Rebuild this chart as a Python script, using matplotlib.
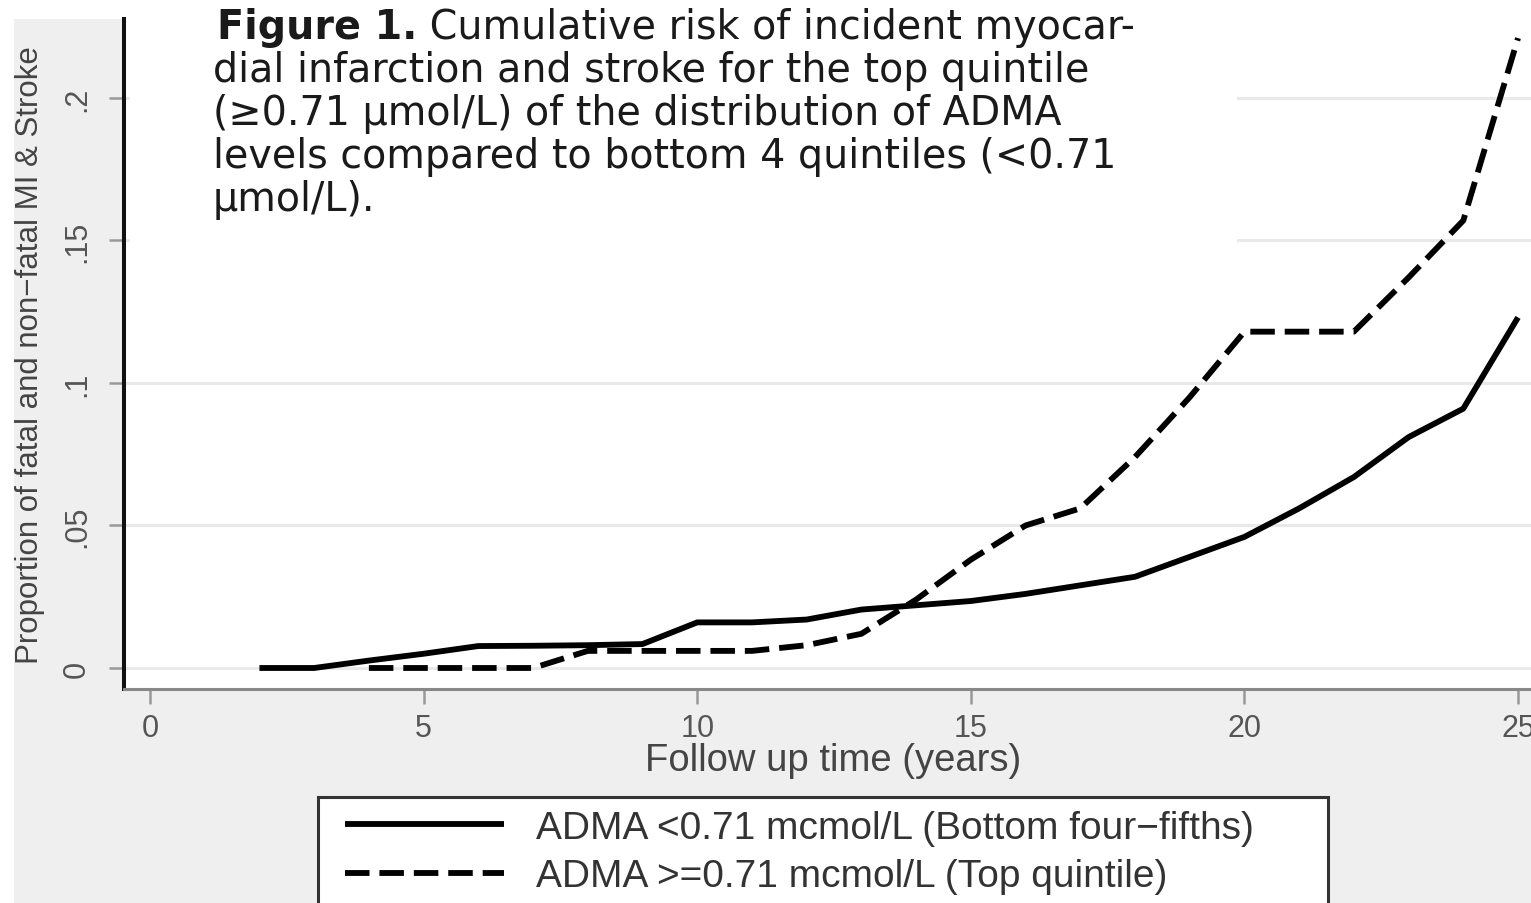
import matplotlib
matplotlib.use('Agg')
import matplotlib.pyplot as plt
from matplotlib.patches import Rectangle
from matplotlib.text import Annotation

# follow-up years and cumulative risk
years_low = [2, 3, 4, 5, 6, 7, 8, 9, 10, 11, 12, 13, 14, 15, 16, 17, 18, 19, 20, 21, 22, 23, 24, 25]
risk_low = [0, 0, 0.0026, 0.005, 0.0077, 0.0078, 0.008, 0.0084, 0.016, 0.016, 0.017, 0.0205,
            0.022, 0.0235, 0.026, 0.029, 0.032, 0.039, 0.046, 0.056, 0.067, 0.081, 0.091, 0.123]

years_high = [4, 5, 6, 7, 8, 9, 10, 11, 12, 13, 14, 15, 16, 17, 18, 19, 20, 21, 22, 23, 24, 25]
risk_high = [0, 0, 0, 0, 0.006, 0.006, 0.006, 0.006, 0.008, 0.012, 0.024, 0.038, 0.050, 0.056,
             0.074, 0.095, 0.118, 0.118, 0.118, 0.137, 0.157, 0.221]

series_labels = ['ADMA <0.71 mcmol/L (Bottom four\u2212fifths)',
                 'ADMA >=0.71 mcmol/L (Top quintile)']

x_ticks = [0, 5, 10, 15, 20, 25]
x_ticklabels = ['0', '5', '10', '15', '20', '25']
y_ticks = [0, 0.05, 0.1, 0.15, 0.2]
y_ticklabels = ['0', '.05', '.1', '.15', '.2']

caption_bold = 'Figure 1.'
caption_lines = [' Cumulative risk of incident myocar-',
                 'dial infarction and stroke for the top quintile',
                 '(\u22650.71 \u03bcmol/L) of the distribution of ADMA',
                 'levels compared to bottom 4 quintiles (<0.71',
                 '\u03bcmol/L).']

W, H = 1531, 904


def fx(px):
    return px / W


def fy(py):
    return 1 - py / H


plt.rcParams['font.family'] = ['Liberation Sans', 'DejaVu Sans']

fig = plt.figure(figsize=(W / 100, H / 100), dpi=100, facecolor='white')

# grey graph region (Stata style), plot area is white
fig.add_artist(Rectangle((fx(14), 0), 1 - fx(14), fy(20), transform=fig.transFigure,
                         facecolor='#efefef', edgecolor='none', zorder=-2))

ax = fig.add_axes([fx(124), fy(690), 1 - fx(124), fy(20) - fy(690)])
ax.set_facecolor('white')
ax.set_xlim(-0.475, 25.237)
ax.set_ylim(-0.00737, 0.2277)

ax.plot(years_low, risk_low, color='black', lw=4.2, solid_capstyle='butt',
        solid_joinstyle='round', label=series_labels[0])
ax.plot(years_high, risk_high, color='black', lw=4.2, dashes=(4.2, 1.7),
        dash_capstyle='butt', label=series_labels[1])

ax.set_axisbelow(True)
ax.grid(axis='y', color='#e9e9e9', lw=2.2)
ax.grid(axis='x', visible=False)

for s in ['top', 'right']:
    ax.spines[s].set_visible(False)
ax.spines['left'].set_color('#111111')
ax.spines['left'].set_linewidth(2.9)
ax.spines['bottom'].set_color('#888888')
ax.spines['bottom'].set_linewidth(2.2)

ax.set_xticks(x_ticks, x_ticklabels)
ax.set_yticks(y_ticks, y_ticklabels)
ax.tick_params(axis='x', length=11, width=1.8, color='#999999', pad=6,
               labelsize=22, labelcolor='#555555')
ax.tick_params(axis='y', length=11, width=1.8, color='#999999', pad=12,
               labelsize=22, labelcolor='#555555', labelrotation=90)
for lab in ax.get_yticklabels():
    lab.set_va('center')

ax.set_xlabel('Follow up time (years)', fontsize=27.5, color='#444444')
ax.xaxis.set_label_coords((833 - 124) / 1407, (690 - 761) / 670)
ax.xaxis.label.set_va('center')
ax.set_ylabel('Proportion of fatal and non\u2212fatal MI & Stroke', fontsize=22.5, color='#444444')
ax.yaxis.set_label_coords((30 - 124) / 1407, 0.5)
ax.yaxis.label.set_va('center')

# white caption box over the top left of the plot
fig.add_artist(Rectangle((fx(130), fy(250)), fx(1237) - fx(130), fy(0) - fy(250),
                         transform=fig.transFigure, facecolor='white', edgecolor='none', zorder=3))
cap_kw = dict(family='DejaVu Sans', size=28.5, color='#1a1a1a', zorder=6)
t1 = fig.text(fx(217), fy(39), caption_bold, weight='bold', va='baseline', **cap_kw)
fig.add_artist(Annotation(caption_lines[0], xy=(1, 0), xycoords=t1, va='bottom', **cap_kw))
baselines = [82, 125, 168, 211]
for line, b in zip(caption_lines[1:], baselines):
    fig.text(fx(213), fy(b), line, va='baseline', **cap_kw)

# legend box, cut off by the bottom of the image
fig.add_artist(Rectangle((fx(318), fy(935)), fx(1328) - fx(318), fy(798) - fy(935),
                         transform=fig.transFigure, facecolor='white', edgecolor='#333333',
                         lw=2.2, zorder=4))
handles, labels = ax.get_legend_handles_labels()
leg = fig.legend(handles, labels, loc='upper left', bbox_to_anchor=(fx(345), fy(811)),
                 frameon=False, borderpad=0, borderaxespad=0, handlelength=4.1,
                 handletextpad=0.8, labelspacing=0.32, fontsize=28)
for t in leg.get_texts():
    t.set_color('#333333')
leg.set_zorder(6)

fig.savefig('out.png', dpi=100, facecolor='white')
